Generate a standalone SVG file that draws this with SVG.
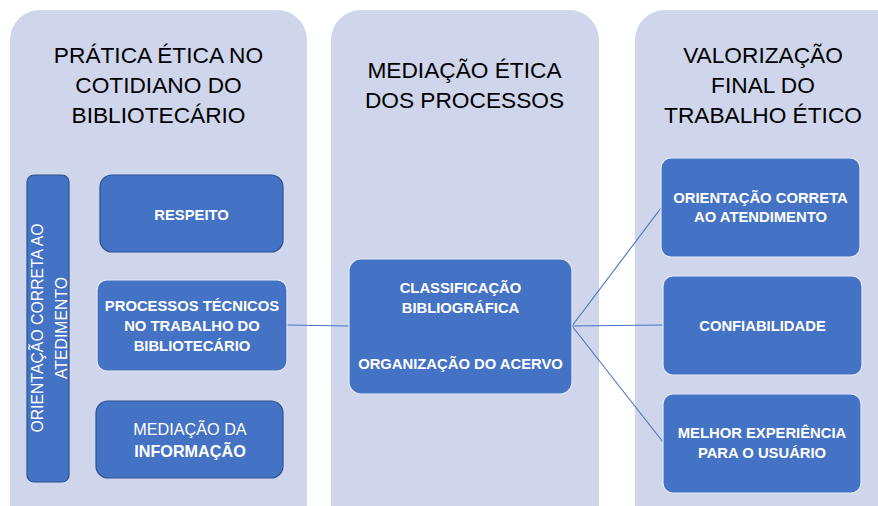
<svg xmlns="http://www.w3.org/2000/svg" width="878" height="506" viewBox="0 0 878 506">
<style>
.panel{fill:#CFD5EA;}
.box{fill:#4472C4;}
.dark{stroke:#2F528F;stroke-width:1.2;}
.light{stroke:#E4E9F5;stroke-width:1.2;}
.title{font-family:"Liberation Sans",Arial,sans-serif;font-size:22.7px;fill:#000;text-anchor:middle;}
.bt{font-family:"Liberation Sans",Arial,sans-serif;font-size:14.8px;font-weight:bold;fill:#fff;text-anchor:middle;}
.rt{font-family:"Liberation Sans",Arial,sans-serif;font-size:15.8px;fill:#fff;text-anchor:middle;}
.conn{stroke:#4472C4;stroke-width:1.1;fill:none;}
</style>
<rect width="878" height="506" fill="#fff"/>
<g id="panel1">
<rect class="panel" x="10" y="10" width="297" height="530" rx="30"/>
<text class="title" x="158.5" y="63">PRÁTICA ÉTICA NO</text>
<text class="title" x="158.5" y="93">COTIDIANO DO</text>
<text class="title" x="158.5" y="123">BIBLIOTECÁRIO</text>
</g>
<g id="panel2">
<rect class="panel" x="331" y="10" width="268" height="530" rx="30"/>
<text class="title" x="464.5" y="78">MEDIAÇÃO ÉTICA</text>
<text class="title" x="464.5" y="108">DOS PROCESSOS</text>
</g>
<g id="panel3">
<rect class="panel" x="635" y="10" width="290" height="530" rx="30"/>
<text class="title" x="763" y="63">VALORIZAÇÃO</text>
<text class="title" x="763" y="93">FINAL DO</text>
<text class="title" x="763" y="123">TRABALHO ÉTICO</text>
</g>
<g id="connectors">
<line class="conn" x1="287" y1="325" x2="349" y2="326"/>
<line class="conn" x1="572" y1="326" x2="661" y2="208"/>
<line class="conn" x1="572" y1="326" x2="663" y2="325"/>
<line class="conn" x1="572" y1="326" x2="663" y2="442"/>
</g>
<g id="orientacao-vertical">
<rect class="box dark" x="27" y="175" width="42" height="307" rx="7"/>
<text class="rt" transform="rotate(-90)" x="-328" y="43">ORIENTAÇÃO CORRETA AO</text>
<text class="rt" transform="rotate(-90)" x="-328" y="67">ATEDIMENTO</text>
</g>
<g id="respeito">
<rect class="box dark" x="100" y="175" width="183" height="77" rx="12"/>
<text class="bt" x="191.5" y="220">RESPEITO</text>
</g>
<g id="processos">
<rect class="box light" x="97" y="280" width="190" height="91" rx="10"/>
<text class="bt" x="192" y="311">PROCESSOS TÉCNICOS</text>
<text class="bt" x="192" y="331">NO TRABALHO DO</text>
<text class="bt" x="192" y="351">BIBLIOTECÁRIO</text>
</g>
<g id="mediacao-informacao">
<rect class="box dark" x="96" y="401" width="187" height="77" rx="12"/>
<text class="rt" style="font-size:16.2px" x="190" y="435">MEDIAÇÃO DA</text>
<text class="bt" style="font-size:16.2px" x="190" y="457">INFORMAÇÃO</text>
</g>
<g id="classificacao">
<rect class="box light" x="349" y="259" width="223" height="135" rx="12"/>
<text class="bt" x="460.5" y="293">CLASSIFICAÇÃO</text>
<text class="bt" x="460.5" y="313">BIBLIOGRÁFICA</text>
<text class="bt" x="460.5" y="369">ORGANIZAÇÃO DO ACERVO</text>
</g>
<g id="orientacao-correta">
<rect class="box light" x="661" y="158" width="199" height="99" rx="10"/>
<text class="bt" x="760.5" y="203">ORIENTAÇÃO CORRETA</text>
<text class="bt" x="760.5" y="222">AO ATENDIMENTO</text>
</g>
<g id="confiabilidade">
<rect class="box light" x="663" y="276" width="199" height="99" rx="10"/>
<text class="bt" x="762.5" y="331">CONFIABILIDADE</text>
</g>
<g id="melhor-experiencia">
<rect class="box light" x="663" y="394" width="198" height="99" rx="10"/>
<text class="bt" x="762" y="438">MELHOR EXPERIÊNCIA</text>
<text class="bt" x="762" y="458">PARA O USUÁRIO</text>
</g>
</svg>
